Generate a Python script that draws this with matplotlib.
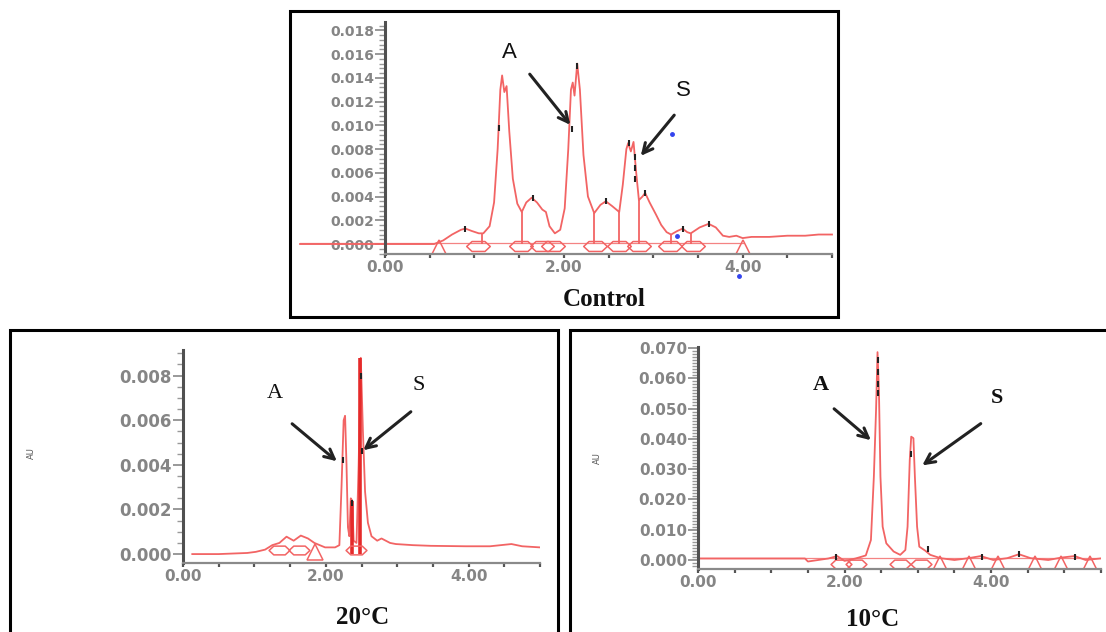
import matplotlib
matplotlib.use('Agg')
import matplotlib.pyplot as plt
from matplotlib.path import Path
from matplotlib.patches import Rectangle
from matplotlib.ticker import MultipleLocator

W, H = 1106, 632

# ---------------- data ----------------
# Control chromatogram
ctrl_x = [-0.95, 0.55, 0.65, 0.75, 0.85, 0.90, 0.97, 1.05, 1.10, 1.17, 1.22, 1.26, 1.29, 1.31,
          1.335, 1.36, 1.39, 1.43, 1.48, 1.53, 1.58, 1.64, 1.70, 1.76, 1.80, 1.84, 1.90, 1.96,
          2.01, 2.05, 2.08, 2.10, 2.12, 2.15, 2.18, 2.22, 2.27, 2.34, 2.41, 2.47, 2.54, 2.62,
          2.66, 2.70, 2.72, 2.75, 2.78, 2.81, 2.84, 2.88, 2.91, 2.96, 3.03, 3.09, 3.15, 3.20,
          3.27, 3.33, 3.38, 3.42, 3.52, 3.62, 3.70, 3.78, 3.85, 3.93, 4.00, 4.10, 4.30, 4.50,
          4.70, 4.85, 5.00]
ctrl_y = [0.0, 0.0, 0.0003, 0.0008, 0.0012, 0.0013, 0.0011, 0.0009, 0.0009, 0.0015, 0.0035,
          0.0080, 0.0130, 0.0142, 0.0128, 0.0133, 0.0095, 0.0055, 0.0034, 0.0027, 0.0035,
          0.0039, 0.0035, 0.0029, 0.0027, 0.0015, 0.0009, 0.0012, 0.0030, 0.0080, 0.0130,
          0.0136, 0.0125, 0.0152, 0.0130, 0.0075, 0.0040, 0.0026, 0.0033, 0.0036, 0.0032,
          0.0027, 0.0050, 0.0080, 0.0085, 0.0078, 0.0086, 0.0060, 0.0037, 0.0040, 0.0043,
          0.0035, 0.0025, 0.0016, 0.0010, 0.0008, 0.0011, 0.0013, 0.0010, 0.0009, 0.0014,
          0.0017, 0.0014, 0.0007, 0.0006, 0.0007, 0.0005, 0.0006, 0.0006, 0.0007, 0.0007,
          0.0008, 0.0008]
ctrl_drop_x = [1.09, 1.53, 2.34, 2.62, 2.84, 3.20, 3.42]
ctrl_drop_top = [0.0009, 0.0027, 0.0026, 0.0027, 0.0037, 0.0008, 0.0009]
ctrl_hex_x = [1.04, 1.52, 1.76, 1.88, 2.35, 2.62, 2.84, 3.19, 3.45]
ctrl_tri_x = [0.60, 4.00]
ctrl_tag_x = [0.89, 1.27, 1.65, 2.09, 2.15, 2.47, 2.73, 2.80, 2.80, 2.80, 2.91, 3.33, 3.62]
ctrl_tag_y = [0.0013, 0.0098, 0.0039, 0.0097, 0.0150, 0.0036, 0.0085, 0.0073, 0.0064,
              0.0055, 0.0043, 0.0013, 0.0017]
ctrl_blue_x = [3.21, 3.27, 3.96]
ctrl_blue_y = [0.0093, 0.0007, -0.0027]
ctrl_yticks = [0.000, 0.002, 0.004, 0.006, 0.008, 0.010, 0.012, 0.014, 0.016, 0.018]
ctrl_ylabels = ['0.000', '0.002', '0.004', '0.006', '0.008', '0.010', '0.012', '0.014',
                '0.016', '0.018']

# 20 °C chromatogram
t20_x = [0.13, 0.50, 0.90, 1.02, 1.15, 1.25, 1.35, 1.45, 1.55, 1.65, 1.75, 1.84, 1.99, 2.13,
         2.19, 2.22, 2.25, 2.27, 2.29, 2.31, 2.33, 2.35, 2.37, 2.39, 2.43, 2.46, 2.49, 2.52,
         2.55, 2.59, 2.64, 2.72, 2.78, 2.90, 2.98, 3.22, 3.47, 3.96, 4.30, 4.45, 4.60, 4.75,
         5.00]
t20_y = [0.0, 0.0, 0.00005, 0.0001, 0.0002, 0.0004, 0.0005, 0.00078, 0.0006, 0.00083, 0.0007,
         0.0005, 0.0003, 0.0003, 0.0004, 0.0030, 0.0060, 0.0062, 0.0040, 0.0012, 0.0008,
         0.0025, 0.0024, 0.0006, 0.0005, 0.0040, 0.0088, 0.0055, 0.0028, 0.0014, 0.0008,
         0.0006, 0.0007, 0.0005, 0.00045, 0.0004, 0.00037, 0.00035, 0.00035, 0.0004,
         0.00045, 0.00035, 0.0003]
t20_drop_x = [2.36, 2.485]
t20_drop_top = [0.0024, 0.0088]
t20_hex_x = [1.35, 1.62, 2.42]
t20_tri_x = [1.85]
t20_tag_x = [2.24, 2.50, 2.49, 2.36]
t20_tag_y = [0.0042, 0.0046, 0.0080, 0.0023]
t20_yticks = [0.000, 0.002, 0.004, 0.006, 0.008]
t20_ylabels = ['0.000', '0.002', '0.004', '0.006', '0.008']

# 10 °C chromatogram
t10_x = [0.0, 1.46, 1.50, 1.78, 1.90, 2.00, 2.15, 2.29, 2.36, 2.40, 2.43, 2.45, 2.47, 2.49,
         2.52, 2.57, 2.67, 2.76, 2.83, 2.86, 2.89, 2.91, 2.94, 2.96, 2.99, 3.02, 3.10, 3.17,
         3.31, 3.50, 3.69, 3.86, 4.03, 4.22, 4.38, 4.54, 4.78, 4.96, 5.14, 5.29, 5.53]
t10_y = [0.0005, 0.0005, -0.0005, 0.0005, 0.0013, -0.0003, 0.0005, 0.0015, 0.0066, 0.0275,
         0.0495, 0.0686, 0.0550, 0.0275, 0.0110, 0.0055, 0.0028, 0.0017, 0.0033, 0.0110,
         0.0330, 0.0407, 0.0402, 0.0275, 0.0110, 0.0044, 0.0031, 0.0017, 0.0006, 0.0,
         0.0006, 0.0013, 0.0, 0.0006, 0.0019, 0.0006, 0.0, 0.0008, 0.0013, 0.0, 0.0006]
t10_hex_x = [1.95, 2.15, 2.75, 3.05]
t10_tri_x = [3.30, 3.70, 4.10, 4.60, 4.95, 5.35]
t10_tag_x = [1.88, 2.45, 2.45, 2.45, 2.45, 2.91, 3.14, 3.87, 4.38, 5.15]
t10_tag_y = [0.0010, 0.0660, 0.0620, 0.0580, 0.0550, 0.0350, 0.0036, 0.0010, 0.0020, 0.0010]
t10_yticks = [0.000, 0.010, 0.020, 0.030, 0.040, 0.050, 0.060, 0.070]
t10_ylabels = ['0.000', '0.010', '0.020', '0.030', '0.040', '0.050', '0.060', '0.070']

x_major = [0, 2, 4]
x_labels = ['0.00', '2.00', '4.00']
titles = ['Control', '20\u00b0C', '10\u00b0C']

# ---------------- styling helpers ----------------
RED = '#f26464'
GRAY = '#858585'


def fx(px):
    return px / W


def fy(py):
    return 1 - py / H


hex_marker = Path([(-1, 0), (-0.55, 0.42), (0.55, 0.42), (1, 0), (0.55, -0.42), (-0.55, -0.42),
                   (-1, 0)], [Path.MOVETO] + [Path.LINETO] * 5 + [Path.CLOSEPOLY])


def make_ax(fig, left, right, top, bottom):
    ax = fig.add_axes([fx(left), fy(bottom), (right - left) / W, (bottom - top) / H])
    ax.patch.set_alpha(0)
    for s in ['top', 'right']:
        ax.spines[s].set_visible(False)
    ax.spines['left'].set_color('#505050')
    ax.spines['left'].set_linewidth(2.2)
    ax.spines['bottom'].set_color('#8a8a8a')
    ax.spines['bottom'].set_linewidth(1.6)
    return ax


def style(ax, xlim, ylim, yticks, ylabels, yminor, ysize):
    ax.set_xlim(*xlim)
    ax.set_ylim(*ylim)
    ax.set_xticks(x_major)
    ax.set_xticklabels(x_labels, fontweight='bold', family='DejaVu Sans')
    ax.xaxis.set_minor_locator(MultipleLocator(0.5))
    ax.tick_params(axis='x', which='both', length=3, width=1.6, color='#555555',
                   direction='out', pad=1, labelsize=11, labelcolor=GRAY)
    ax.set_yticks(yticks)
    ax.set_yticklabels(ylabels, fontweight='bold', family='DejaVu Sans')
    ax.yaxis.set_minor_locator(MultipleLocator(yminor))
    ax.tick_params(axis='y', which='major', length=7, width=1.2, color='#888888',
                   pad=1, labelsize=ysize, labelcolor=GRAY)
    ax.tick_params(axis='y', which='minor', length=4, width=1.0, color='#999999')


fig = plt.figure(figsize=(W / 100, H / 100), dpi=100)

# panel frames
for (l, t, r, b) in [(290, 11, 838, 317), (10, 330, 558, 640), (570, 330, 1110, 640)]:
    fig.patches.append(Rectangle((fx(l), fy(b)), (r - l) / W, (b - t) / H,
                                 transform=fig.transFigure, fill=False,
                                 edgecolor='black', linewidth=2.2))

# ---------------- Control ----------------
ax1 = make_ax(fig, 385, 832, 22, 254)
style(ax1, (0, 5.0), (-0.00084, 0.0187), ctrl_yticks, ctrl_ylabels, 0.0004, 10)
ax1.plot(ctrl_x, ctrl_y, color=RED, lw=1.3, clip_on=False)
ax1.plot([ctrl_x[0], 4.0], [0.00005, 0.00005], color=RED, lw=0.9, alpha=0.8, clip_on=False)
ax1.vlines(ctrl_drop_x, 0, ctrl_drop_top, color=RED, lw=1.3)
ax1.plot(ctrl_hex_x, [-0.0002] * len(ctrl_hex_x), ls='none', marker=hex_marker, ms=17,
         mfc='none', mec=RED, mew=1.1)
ax1.plot(ctrl_tri_x, [-0.0004] * len(ctrl_tri_x), ls='none', marker='^', ms=13,
         mfc='none', mec=RED, mew=1.1)
ax1.plot(ctrl_tag_x, ctrl_tag_y, ls='none', marker='|', ms=5, mec='#222222', mew=1.5)
ax1.plot(ctrl_blue_x, ctrl_blue_y, ls='none', marker='o', ms=2.5, color='#3344ee',
         clip_on=False)

# ---------------- 20 °C ----------------
ax2 = make_ax(fig, 183, 540, 350, 563)
style(ax2, (0, 5.0), (-0.0004, 0.00915), t20_yticks, t20_ylabels, 0.0005, 12)
ax2.plot(t20_x, t20_y, color=RED, lw=1.3)
ax2.vlines(t20_drop_x, 0, t20_drop_top, color='#e52a2a', lw=2.6)
ax2.plot(t20_hex_x, [0.0002] * len(t20_hex_x), ls='none', marker=hex_marker, ms=15,
         mfc='none', mec=RED, mew=1.1)
ax2.plot(t20_tri_x, [0.0001] * len(t20_tri_x), ls='none', marker='^', ms=11,
         mfc='none', mec=RED, mew=1.1)
ax2.plot(t20_tag_x, t20_tag_y, ls='none', marker='|', ms=5, mec='#222222', mew=1.5)
ax2.text(fx(31), fy(453), 'AU', transform=fig.transFigure, rotation=90, fontsize=6,
         color='#555555', ha='center', va='center')

# ---------------- 10 °C ----------------
ax3 = make_ax(fig, 698, 1101, 347, 569)
style(ax3, (0, 5.5), (-0.00297, 0.0703), t10_yticks, t10_ylabels, 0.001, 11)
ax3.plot(t10_x, t10_y, color=RED, lw=1.3)
ax3.plot([0, 5.53], [0.0006, 0.0006], color=RED, lw=0.9, alpha=0.8)
ax3.plot(t10_hex_x, [-0.0012] * len(t10_hex_x), ls='none', marker=hex_marker, ms=15,
         mfc='none', mec=RED, mew=1.1)
ax3.plot(t10_tri_x, [-0.0013] * len(t10_tri_x), ls='none', marker='^', ms=11,
         mfc='none', mec=RED, mew=1.1)
ax3.plot(t10_tag_x, t10_tag_y, ls='none', marker='|', ms=5, mec='#222222', mew=1.5)
ax3.text(fx(597), fy(458), 'AU', transform=fig.transFigure, rotation=90, fontsize=6,
         color='#555555', ha='center', va='center')

# ---------------- titles ----------------
for (txt, px, py) in [(titles[0], 604, 299), (titles[1], 363, 617), (titles[2], 873, 619)]:
    fig.text(fx(px), fy(py), txt, family='Liberation Serif', fontweight='bold', fontsize=18,
             ha='center', va='center', color='#111111')

# ---------------- A / S annotations ----------------
ann = [
    # label, label pos, tail, head, family, weight
    ('A', (509, 52), (528, 72), (572, 127), 'Liberation Sans', 'normal'),
    ('S', (683, 90), (676, 113), (639, 158), 'Liberation Sans', 'normal'),
    ('A', (275, 393), (290, 422), (339, 463), 'Liberation Serif', 'normal'),
    ('S', (419, 385), (413, 410), (361, 452), 'Liberation Serif', 'normal'),
    ('A', (821, 385), (832, 407), (873, 442), 'Liberation Serif', 'bold'),
    ('S', (997, 398), (983, 422), (920, 467), 'Liberation Serif', 'bold'),
]
for lab, lp, tail, head, fam, wt in ann:
    fig.text(fx(lp[0]), fy(lp[1]), lab, family=fam, fontsize=16, ha='center', va='center',
             color='#111111', fontweight=wt)
    ax1.annotate('', xy=(fx(head[0]), fy(head[1])), xycoords='figure fraction',
                 xytext=(fx(tail[0]), fy(tail[1])), textcoords='figure fraction',
                 arrowprops=dict(arrowstyle='->, head_length=0.7, head_width=0.35',
                                 color='#222222', lw=2.2), annotation_clip=False)

fig.savefig('out.png', dpi=100)
